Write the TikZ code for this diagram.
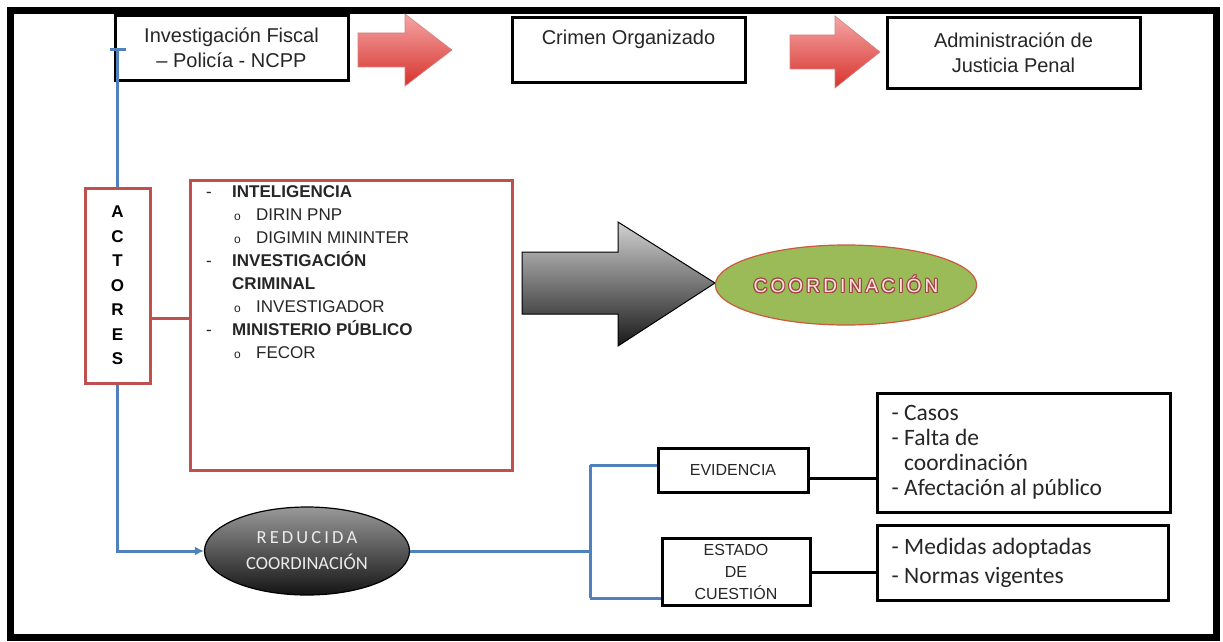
\documentclass[tikz,border=0pt]{standalone}
\usepackage{fontspec}
\setmainfont{Liberation Sans}
\newfontfamily\calfont{Carlito}
\usepackage{contour}
\contourlength{1pt}
\usetikzlibrary{arrows.meta,shapes.geometric}
\definecolor{rd}{HTML}{C0504D}
\definecolor{bl}{HTML}{4F81BD}
\definecolor{gr}{HTML}{9BBB59}
\definecolor{txt}{HTML}{262626}
\definecolor{arrtop}{HTML}{F4A6A6}
\definecolor{arrbot}{HTML}{D8322C}
\newcommand\Ldash[1]{\makebox[26pt][l]{-}\textbf{#1}}
\newcommand\Lcont[1]{\hspace{26pt}\textbf{#1}}
\newcommand\Lsub[1]{\hspace{28pt}\makebox[22pt][l]{\fontsize{12}{12}\selectfont o}#1}
\begin{document}
\begin{tikzpicture}[x=1pt,y=-1pt,
  blkbox/.style={draw=black,line width=3pt,rectangle,inner sep=0pt,align=center,text=txt,
     font=\fontsize{20}{25}\selectfont},
  redbox/.style={draw=rd,line width=3pt,rectangle,inner sep=0pt},
  smallbox/.style={draw=black,line width=3pt,rectangle,inner sep=0pt,align=center,text=txt,
     font=\fontsize{16}{22}\selectfont},
  calbox/.style={draw=black,line width=3pt,rectangle,inner sep=0pt},
  caltext/.style={anchor=west,align=left,inner sep=0pt,text=txt,font=\calfont\fontsize{23.5}{25}\selectfont},
  blueline/.style={draw=bl,line width=3pt},
  redline/.style={draw=rd,line width=3pt},
  blkline/.style={draw=black,line width=3pt},
  redarrow/.style={draw=rd!70,line width=0.6pt,top color=arrtop,bottom color=arrbot}
]
\useasboundingbox (0,0) rectangle (1223,642);
\fill[white] (0,0) rectangle (1223,642);
\draw[line width=7pt] (10,11) rectangle (1216,637);

% top row
\node[blkbox,minimum width=233,minimum height=64] (b1) at (231.5,48)
  {Investigación Fiscal\\– Policía - NCPP};
\node[blkbox,minimum width=233,minimum height=64] (b2) at (628.5,50)
  {Crimen Organizado\\\mbox{}};
\node[blkbox,minimum width=253,minimum height=70] (b3) at (1013.5,53)
  {Administración de\\Justicia Penal};
\path[redarrow] (358,33) -- (405,33) -- (405,14) -- (452,50) -- (405,86) -- (405,67) -- (358,67) -- cycle;
\path[redarrow] (790,35) -- (835,35) -- (835,16) -- (880,52) -- (835,88) -- (835,69) -- (790,69) -- cycle;

% actores
\node[redbox,minimum width=65,minimum height=195,align=center,
  font=\bfseries\fontsize{17}{24.5}\selectfont] (act) at (117.5,285.5)
  {A\\C\\T\\O\\R\\E\\S};
\coordinate (ttop) at (117.5,48);
\draw[blueline,{Bar[width=16pt]}-] (ttop) -- (act.north);

\node[redbox,minimum width=322,minimum height=290] (lst) at (351,325) {};
\node[anchor=north west,align=left,inner sep=0pt,text=txt,
  font=\fontsize{17}{23}\selectfont] (lsttxt) at (206,185)
  {\Ldash{INTELIGENCIA}\\
   \Lsub{DIRIN PNP}\\
   \Lsub{DIGIMIN MININTER}\\
   \Ldash{INVESTIGACIÓN}\\
   \Lcont{CRIMINAL}\\
   \Lsub{INVESTIGADOR}\\
   \Ldash{MINISTERIO PÚBLICO}\\
   \Lsub{FECOR}};
\draw[redline] (act.east |- 0,318) -- (lst.west |- 0,318);

% gray arrow
\path[draw=black,line width=1pt,top color=black!18,bottom color=black!90]
  (522,252) -- (618,252) -- (618,222) -- (715,283) -- (618,346) -- (618,314) -- (522,314) -- cycle;

% green ellipse
\node[ellipse,draw=rd!80!orange,line width=1.2pt,fill=gr,minimum width=257,minimum height=80,
  inner sep=0pt,font=\fontsize{19}{20}\selectfont] (coord) at (846,285)
  {\contour{rd!85!black}{\textcolor{white!90!red}{C\,O\,O\,R\,D\,I\,N\,A\,C\,I\,Ó\,N}}};

% reducida
\node[ellipse,draw=black,line width=1.2pt,top color=black!40,bottom color=black!92,
  minimum width=205,minimum height=88,inner sep=0pt,align=center,text=white!92!black,
  font=\calfont\fontsize{18.5}{26}\selectfont] (rc) at (307,551)
  {R\,E\,D\,U\,C\,I\,D\,A\\COORDINACIÓN};
\draw[blueline,-{Latex[length=9pt,width=9pt]}] (act.south) |- (rc.west);

% bottom right
\node[smallbox,minimum width=150,minimum height=44] (ev) at (733,470) {EVIDENCIA};
\node[smallbox,minimum width=148,minimum height=67] (es) at (736,571.5) {ESTADO\\DE\\CUESTIÓN};
\node[calbox,minimum width=293,minimum height=119] (cs) at (1023.5,452.5) {};
\node[caltext] (cstxt) at ([xshift=16pt]cs.west)
  {- Casos\\- Falta de\\\phantom{- }coordinación\\- Afectación al público};
\node[calbox,minimum width=291,minimum height=75] (md) at (1022.5,562.5) {};
\node[caltext,font=\calfont\fontsize{23.5}{29}\selectfont] (mdtxt) at ([xshift=16pt]md.west)
  {- Medidas adoptadas\\- Normas vigentes};

\coordinate (bt) at (590,465);
\coordinate (bb) at (590,598);
\draw[blueline] (bt) -- (bb);
\draw[blueline] (rc.east) -- (rc.east -| bt);
\draw[blueline] (bt) -- (bt -| ev.west);
\draw[blueline] (bb) -- (bb -| es.west);
\draw[blkline] (ev.east |- 0,478) -- (cs.west |- 0,478);
\draw[blkline] (es.east |- 0,572) -- (md.west |- 0,572);
\end{tikzpicture}
\end{document}
